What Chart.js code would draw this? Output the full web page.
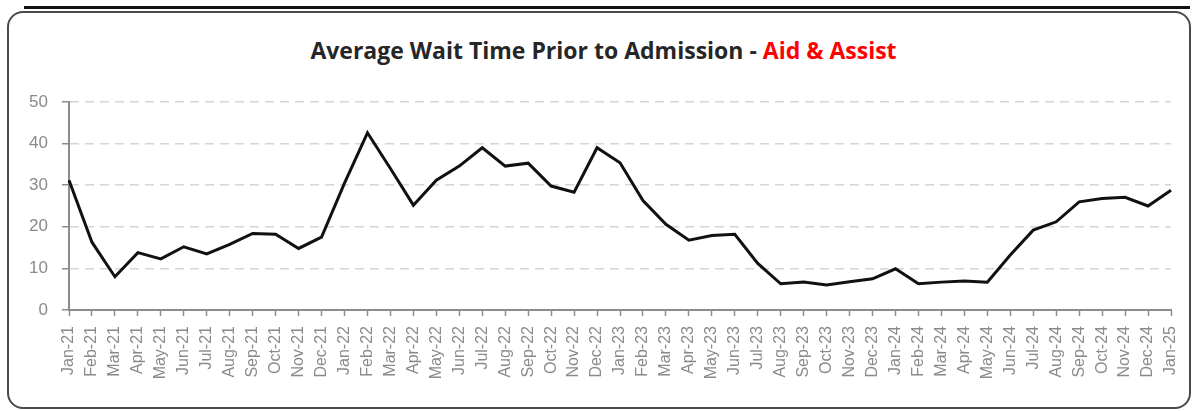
<!DOCTYPE html>
<html>
<head>
<meta charset="utf-8">
<script src="https://cdn.jsdelivr.net/npm/chart.js@4.4.1/dist/chart.umd.min.js"></script>
<style>
  html, body { margin: 0; padding: 0; background: #fff; }
  #wrap { position: relative; width: 1197px; height: 411px; overflow: hidden; }
  #topline { position: absolute; left: 24px; top: 6px; width: 1166px; height: 0; border-top: 3px solid #111; }
  #box { position: absolute; left: 7px; top: 11px; width: 1180px; height: 394px;
         border: 2px solid #4a4a4a; border-radius: 16px; }
  #title { position: absolute; left: 0; width: 1207px; top: 36px; text-align: center;
           font-family: "Open Sans", sans-serif; font-weight: 700; font-size: 23px;
           color: #262626; white-space: nowrap; line-height: 28px; }
  #title span { color: #ff0000; }
  canvas { position: absolute; left: 0; top: 0; }
</style>
</head>
<body>
<div id="wrap">
  <div id="topline"></div>
  <div id="box"></div>
  <div id="title">Average Wait Time Prior to Admission - <span>Aid &amp; Assist</span></div>
  <canvas id="chartWait" width="1197" height="411"></canvas>
</div>
<script>
const months = ['Jan-21','Feb-21','Mar-21','Apr-21','May-21','Jun-21','Jul-21','Aug-21','Sep-21','Oct-21','Nov-21','Dec-21',
  'Jan-22','Feb-22','Mar-22','Apr-22','May-22','Jun-22','Jul-22','Aug-22','Sep-22','Oct-22','Nov-22','Dec-22',
  'Jan-23','Feb-23','Mar-23','Apr-23','May-23','Jun-23','Jul-23','Aug-23','Sep-23','Oct-23','Nov-23','Dec-23',
  'Jan-24','Feb-24','Mar-24','Apr-24','May-24','Jun-24','Jul-24','Aug-24','Sep-24','Oct-24','Nov-24','Dec-24',
  'Jan-25'];
const waitTime = [31.2, 16.3, 8.0, 13.8, 12.3, 15.2, 13.5, 15.8, 18.4, 18.2, 14.8, 17.5,
  30.5, 42.6, 34.0, 25.2, 31.2, 34.6, 39.0, 34.6, 35.3, 29.8, 28.3, 39.0,
  35.4, 26.3, 20.6, 16.8, 17.9, 18.2, 11.2, 6.3, 6.7, 6.0, 6.8, 7.5,
  9.9, 6.3, 6.7, 7.0, 6.7, 13.2, 19.2, 21.2, 26.0, 26.8, 27.1, 25.0,
  28.8];
const yTicks = [0, 10, 20, 30, 40, 50];

document.addEventListener('DOMContentLoaded', function () {
  chartWaitTime();
});

function chartWaitTime() {
  const ctx = document.getElementById('chartWait').getContext('2d');
  const axisGrey = '#8c8c8c';

  new Chart(ctx, {
    type: 'line',
    data: {
      labels: months,
      datasets: [{
        label: 'Average Wait Time',
        data: waitTime,
        borderColor: '#111111',
        borderWidth: 3,
        pointRadius: 0,
        tension: 0,
        fill: false
      }]
    },
    options: {
      responsive: false,
      animation: false,
      layout: { padding: { top: 102, right: 26, left: 0, bottom: 0 } },
      plugins: {
        legend: { display: false },
        tooltip: { enabled: false }
      },
      scales: {
        x: {
          offset: false,
          afterFit: function (scale) { scale.height = 101; },
          grid: { drawOnChartArea: false, drawTicks: true, tickLength: 6, tickColor: axisGrey, tickWidth: 1.5 },
          border: { color: axisGrey, width: 2 },
          ticks: {
            autoSkip: false, minRotation: 90, maxRotation: 90, padding: 10,
            color: '#8a8a8a', font: { family: 'Liberation Sans', size: 16, lineHeight: 1 }
          }
        },
        y: {
          min: 0, max: 50,
          afterFit: function (scale) { scale.width = 69; },
          afterBuildTicks: function (scale) { scale.ticks = yTicks.map(v => ({ value: v })); },
          grid: {
            color: c => (c.tick && c.tick.value === 0) ? 'rgba(0,0,0,0)' : '#d6d6d6',
            lineWidth: 1.5, tickLength: 7, tickColor: axisGrey, tickWidth: 1.5
          },
          border: { color: axisGrey, width: 2, dash: [9, 6] },
          ticks: {
            padding: 14, color: '#8a8a8a',
            font: { family: 'Liberation Sans', size: 17 }
          }
        }
      }
    }
  });
}
</script>
</body>
</html>
